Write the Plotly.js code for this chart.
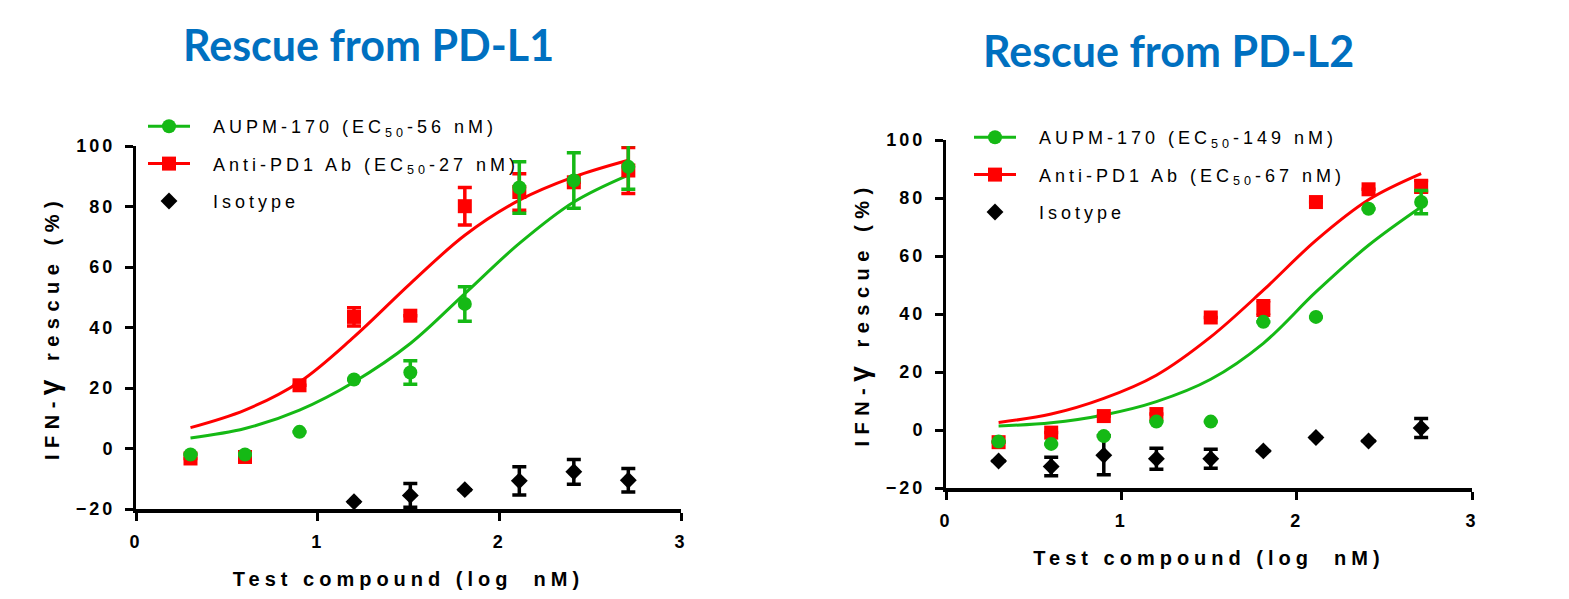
<!DOCTYPE html>
<html><head><meta charset="utf-8">
<script src="https://cdn.plot.ly/plotly-3.0.1.min.js"></script>
<style>
html,body{margin:0;padding:0;background:#fff;}
#chart{width:1569px;height:599px;}
.legendtext,.legend2text{letter-spacing:4px;}
.xtick text,.ytick text,.x2tick text,.y2tick text{letter-spacing:3px;}
.xtitle,.x2title{letter-spacing:5px;}
.ytitle,.y2title{letter-spacing:6.5px;}
</style></head><body><div id="chart"></div>
<script>
// log10 dose (nM)
const doseLog = [0.30, 0.60, 0.90, 1.20, 1.51, 1.81, 2.11, 2.41, 2.71];
const xTicks = [0, 1, 2, 3];
const xTickText = ['0', '1', '2', '3'];
const yTicks = [-20, 0, 20, 40, 60, 80, 100];

// Panel 1: Rescue from PD-L1
const pdl1Aupm     = [-2.0, -2.0, 5.5, 22.8, 25.1, 47.8, 86.3, 88.6, 93.1];
const pdl1AupmErr  = [null, null, null, null, 3.9, 5.7, 8.5, 9.2, 7.4];
const pdl1Ab       = [-3.3, -2.8, 20.9, 43.5, 43.9, 80.1, 84.8, 88.0, 91.9];
const pdl1AbErr    = [null, null, null, 3.0, null, 6.2, 6.0, null, 7.6];
const pdl1Iso      = [null, null, null, -17.6, -15.5, -13.6, -10.7, -7.7, -10.5];
const pdl1IsoErr   = [null, null, null, null, 3.9, null, 4.7, 4.1, 3.9];
const pdl1AupmFit  = [3.5, 6.6, 12.7, 22.0, 34.7, 51.2, 67.8, 81.5, 90.4];
const pdl1AbFit    = [6.9, 12.7, 22.0, 36.9, 54.5, 70.5, 82.1, 89.8, 95.3];

// Panel 2: Rescue from PD-L2
const pdl2Aupm     = [-4.0, -4.8, -2.1, 2.9, 2.9, 37.3, 39.0, 76.3, 78.6];
const pdl2AupmErr  = [null, null, null, null, null, null, null, null, 4.0];
const pdl2Ab       = [-4.2, -0.9, 4.8, 5.5, 38.8, 42.1, 78.6, 83.0, 84.0];
const pdl2AbErr    = [null, null, null, null, null, 2.5, null, null, 2.0];
const pdl2Iso      = [-10.7, -12.6, -8.7, -9.9, -9.9, -7.2, -2.6, -3.8, 0.7];
const pdl2IsoErr   = [null, 3.2, 6.7, 3.6, 3.3, null, null, null, 3.3];
const pdl2AupmFit  = [1.4, 2.5, 5.2, 9.8, 17.5, 29.9, 47.6, 63.7, 76.9];
const pdl2AbFit    = [2.6, 5.5, 10.9, 18.9, 32.1, 48.2, 65.4, 79.4, 88.4];

const legendNames = ['AUPM-170 (EC<sub>50</sub>-56 nM)', 'Anti-PD1 Ab (EC<sub>50</sub>-27 nM)', 'Isotype'];
const legendNames2 = ['AUPM-170 (EC<sub>50</sub>-149 nM)', 'Anti-PD1 Ab (EC<sub>50</sub>-67 nM)', 'Isotype'];
const titles = ['Rescue from PD-L1', 'Rescue from PD-L2'];

const GREEN = '#15B915', RED = '#FF0000', BLACK = '#000000';
const PAD = '\u00a0\u00a0';

function panel(xa, ya, leg, aupm, aupmErr, ab, abErr, iso, isoErr, aupmFit, abFit, names) {
  const err = (arr, c) => ({type: 'data', array: arr, visible: true, color: c, thickness: 3.5, width: 7});
  return [
    {x: doseLog, y: abFit, xaxis: xa, yaxis: ya, mode: 'lines', line: {color: RED, width: 3, shape: 'spline'}, showlegend: false, hoverinfo: 'skip'},
    {x: doseLog, y: aupmFit, xaxis: xa, yaxis: ya, mode: 'lines', line: {color: GREEN, width: 3, shape: 'spline'}, showlegend: false, hoverinfo: 'skip'},
    {x: doseLog, y: iso, xaxis: xa, yaxis: ya, mode: 'markers', marker: {symbol: 'diamond', size: 13, color: BLACK}, error_y: err(isoErr, BLACK), showlegend: false},
    {x: doseLog, y: ab, xaxis: xa, yaxis: ya, mode: 'markers', marker: {symbol: 'square', size: 14, color: RED}, error_y: err(abErr, RED), showlegend: false},
    {x: doseLog, y: aupm, xaxis: xa, yaxis: ya, mode: 'markers', marker: {symbol: 'circle', size: 14, color: GREEN}, error_y: err(aupmErr, GREEN), showlegend: false},
    // legend keys
    {x: [null], y: [null], xaxis: xa, yaxis: ya, mode: 'lines+markers', name: PAD + names[0], legend: leg, legendgroup: leg + 'a', legendrank: 1, line: {color: GREEN, width: 3}, marker: {symbol: 'circle', size: 14, color: GREEN}},
    {x: [null], y: [null], xaxis: xa, yaxis: ya, mode: 'lines+markers', name: PAD + names[1], legend: leg, legendgroup: leg + 'b', legendrank: 2, line: {color: RED, width: 3}, marker: {symbol: 'square', size: 14, color: RED}},
    {x: [null], y: [null], xaxis: xa, yaxis: ya, mode: 'markers', name: PAD + names[2], legend: leg, legendgroup: leg + 'c', legendrank: 3, marker: {symbol: 'diamond', size: 13, color: BLACK}}
  ];
}

const data = [].concat(
  panel('x', 'y', 'legend', pdl1Aupm, pdl1AupmErr, pdl1Ab, pdl1AbErr, pdl1Iso, pdl1IsoErr, pdl1AupmFit, pdl1AbFit, legendNames),
  panel('x2', 'y2', 'legend2', pdl2Aupm, pdl2AupmErr, pdl2Ab, pdl2AbErr, pdl2Iso, pdl2IsoErr, pdl2AupmFit, pdl2AbFit, legendNames2)
);

const tickFont = {family: 'Liberation Sans, Arial, sans-serif', size: 18, color: '#000', weight: 'bold'};
const titleFont = {family: 'Liberation Sans, Arial, sans-serif', size: 20, color: '#000', weight: 'bold'};
function xax(domain, anchor) {
  return {domain: domain, anchor: anchor, range: [0, 3], tickvals: xTicks, ticktext: xTickText,
    showline: true, linewidth: 4, linecolor: '#000', ticks: 'outside', ticklen: 8, tickwidth: 3, tickcolor: '#000',
    showgrid: false, zeroline: false, tickfont: tickFont, ticklabelstandoff: 5, fixedrange: true,
    title: {text: 'Test compound (log\u00a0 nM)', font: titleFont, standoff: 22}};
}
function yax(domain, anchor) {
  return {domain: domain, anchor: anchor, range: [-20, 100], tickvals: yTicks,
    showline: true, linewidth: 3, linecolor: '#000', ticks: 'outside', ticklen: 8, tickwidth: 3, tickcolor: '#000',
    showgrid: false, zeroline: false, tickfont: tickFont, ticklabelstandoff: 6, fixedrange: true,
    title: {text: 'IFN-<span style="font-size:28px">γ</span> rescue (%)', font: titleFont, standoff: 11}};
}
const legFont = {family: 'Liberation Sans, Arial, sans-serif', size: 18, color: '#000'};
const layout = {
  width: 1569, height: 599,
  margin: {l: 0, r: 0, t: 0, b: 0},
  paper_bgcolor: '#fff', plot_bgcolor: '#fff',
  xaxis: xax([136/1569, 681/1569], 'y'),
  yaxis: yax([90/599, 453/599], 'x'),
  xaxis2: xax([946/1569, 1472/1569], 'y2'),
  yaxis2: yax([111/599, 459/599], 'x2'),
  legend: {x: 143/1569, y: 1 - 108/599, xanchor: 'left', yanchor: 'top', font: legFont, bgcolor: 'rgba(0,0,0,0)',
    traceorder: 'grouped', tracegroupgap: 11, itemwidth: 42},
  legend2: {x: 969/1569, y: 1 - 119/599, xanchor: 'left', yanchor: 'top', font: legFont, bgcolor: 'rgba(0,0,0,0)',
    traceorder: 'grouped', tracegroupgap: 11, itemwidth: 42},
  annotations: [
    {text: titles[0], xref: 'paper', yref: 'paper', x: 368/1569, y: 1 - 44/599, xanchor: 'center', yanchor: 'middle', showarrow: false,
      font: {family: 'Lato, Open Sans, sans-serif', size: 43, color: '#0070C0', weight: 'bold'}},
    {text: titles[1], xref: 'paper', yref: 'paper', x: 1168/1569, y: 1 - 51/599, xanchor: 'center', yanchor: 'middle', showarrow: false,
      font: {family: 'Lato, Open Sans, sans-serif', size: 43, color: '#0070C0', weight: 'bold'}}
  ],
  showlegend: true
};
Plotly.newPlot('chart', data, layout, {displayModeBar: false, staticPlot: true});
</script></body></html>
